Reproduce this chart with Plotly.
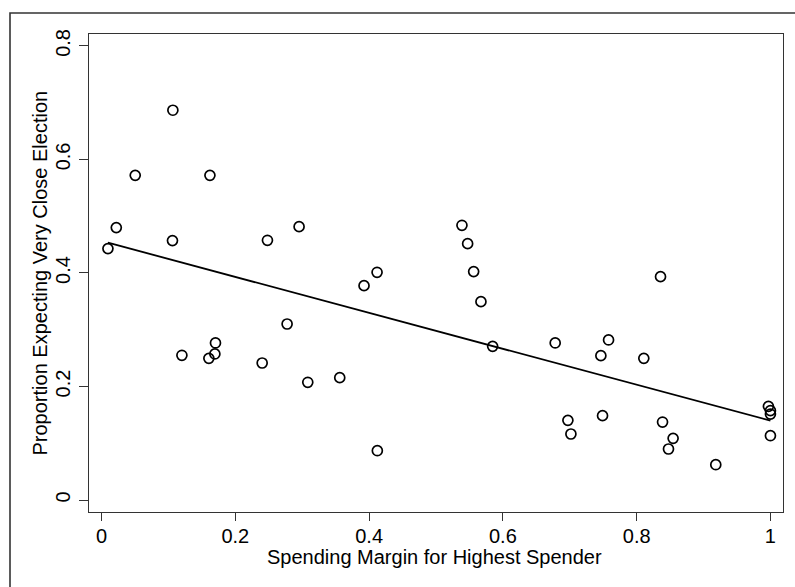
import plotly.graph_objects as go

# Spending margin for highest spender (x) and proportion expecting very close election (y)
spending_margin = [0.1066, 0.0503, 0.162, 0.022, 0.106, 0.0095, 0.248, 0.2953, 0.3924, 0.4119,
                   0.5388, 0.5473, 0.5563, 0.8357, 0.5672,
                   0.1201, 0.1604, 0.1694, 0.1703, 0.2401, 0.2774, 0.3083, 0.3561, 0.4123,
                   0.5847, 0.6782, 0.758, 0.7465, 0.8107, 0.6972, 0.7017, 0.749, 0.8387,
                   0.8545, 0.8476, 0.9183, 0.997, 1.0, 1.0, 1.0]
proportion_close = [0.6867, 0.572, 0.572, 0.480, 0.457, 0.443, 0.4576, 0.4816, 0.3777, 0.4012,
                    0.484, 0.4517, 0.4024, 0.3935, 0.3495,
                    0.255, 0.2496, 0.2573, 0.2767, 0.2414, 0.3101, 0.2074, 0.2156, 0.0869,
                    0.2708, 0.2767, 0.282, 0.2543, 0.2496, 0.1404, 0.1163, 0.1486, 0.1374,
                    0.1087, 0.0899, 0.0622, 0.1651, 0.1574, 0.1515, 0.1133]

# Fitted line endpoints
fit_x = [0.0095, 1.0]
fit_y = [0.4534, 0.1398]

x_ticks = [0, 0.2, 0.4, 0.6, 0.8, 1]
x_tick_labels = ["0", "0.2", "0.4", "0.6", "0.8", "1"]
y_ticks = [0, 0.2, 0.4, 0.6, 0.8]
y_tick_labels = ["0", "0.2", "0.4", "0.6", "0.8"]

FONT = "Liberation Sans, Arial, Helvetica, sans-serif"
AX = "#333333"
FS = 20

fig = go.Figure()
fig.add_trace(go.Scatter(
    x=spending_margin, y=proportion_close, mode="markers",
    marker=dict(symbol="circle-open", size=10, color="black", line=dict(width=1.7, color="black")),
    showlegend=False, hoverinfo="x+y"))
fig.add_trace(go.Scatter(
    x=fit_x, y=fit_y, mode="lines", line=dict(color="black", width=1.8),
    showlegend=False, hoverinfo="skip"))

W, H = 795, 587
ml, mr, mt, mb = 89, 12, 34, 75
pw, ph = W - ml - mr, H - mt - mb

fig.update_layout(
    width=W, height=H,
    margin=dict(l=ml, r=mr, t=mt, b=mb, pad=0),
    paper_bgcolor="white", plot_bgcolor="white",
    font=dict(family=FONT, color="black", size=FS),
    xaxis=dict(
        range=[-0.0188, 1.0188], tickvals=x_ticks, ticktext=x_tick_labels,
        showgrid=False, zeroline=False, showline=True, linecolor=AX, linewidth=1.2, mirror=True,
        ticks="outside", ticklen=8, tickwidth=1.2, tickcolor=AX,
        tickfont=dict(size=FS, family=FONT), ticklabelstandoff=-2,
        automargin=False,
    ),
    yaxis=dict(
        range=[-0.0211, 0.821], tickvals=y_ticks, ticktext=y_tick_labels,
        showgrid=False, zeroline=False, showline=True, linecolor=AX, linewidth=1.2, mirror=True,
        ticks="outside", ticklen=9, tickwidth=1.2, tickcolor=AX, tickangle=-90,
        tickfont=dict(size=FS, family=FONT), ticklabelstandoff=1,
        automargin=False,
    ),
)

# Axis titles
fig.add_annotation(text="Spending Margin for Highest Spender", xref="paper", yref="paper",
                   x=0.5 + (434.5 - (ml + pw / 2)) / pw, y=-(557 - (mt + ph)) / ph,
                   xanchor="center", yanchor="middle", showarrow=False,
                   font=dict(size=FS, family=FONT, color="black"))
fig.add_annotation(text="Proportion Expecting Very Close Election", xref="paper", yref="paper",
                   x=(39 - ml) / pw, y=1 - (273.5 - mt) / ph, textangle=-90,
                   xanchor="center", yanchor="middle", showarrow=False,
                   font=dict(size=FS, family=FONT, color="black"))

# Outer frame (left and top edges visible; right and bottom run off the image)
x0 = (10 - ml) / pw
y1 = 1 + (mt - 13) / ph
fig.add_shape(type="rect", xref="paper", yref="paper", x0=x0, x1=1.2, y0=-0.3, y1=y1,
              line=dict(color="#333333", width=1.6), fillcolor="rgba(0,0,0,0)", layer="below")

fig.write_html("out.html", config={"displayModeBar": False},
               post_script="document.body.style.margin='0';document.body.style.padding='0';")
